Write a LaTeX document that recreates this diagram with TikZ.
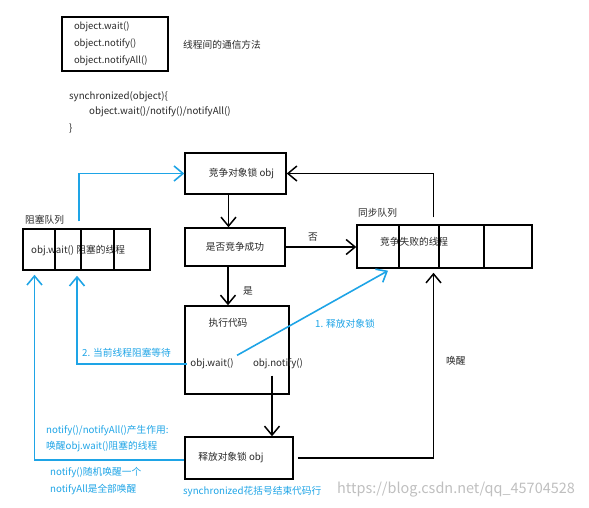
\documentclass[tikz,border=0pt]{standalone}
\usepackage{fontspec}
\setmainfont{Noto Sans CJK SC}
\usepackage{tikz}
\usetikzlibrary{arrows.meta}
\definecolor{lineblue}{RGB}{30,164,230}
\definecolor{inkgray}{RGB}{40,40,40}

\begin{document}
\begin{tikzpicture}[font=\fontsize{9.75}{12}\selectfont,text=inkgray,
  box/.style={draw=black,line width=1.5pt,rectangle,inner sep=0pt},
  barb/.style={-{Straight Barb[length=9bp,width=15bp]}},
  blue text/.style={anchor=west,text=lineblue}]
\useasboundingbox (0bp,0bp) rectangle (589bp,-508bp);
% communication methods
\node (methods) at (115bp,-44bp)[box,minimum width=106bp,minimum height=54bp,align=left,text width=82bp,font=\fontsize{9.5}{17}\selectfont] {object.wait()\\object.notify()\\object.notifyAll()};
\node (note) at (183bp,-45bp)[anchor=west,inner sep=0pt] {线程间的通信方法};
\node (sync1) at (69bp,-97bp)[anchor=west,inner sep=0pt] {synchronized(object)\{};
\node (sync2) at (89bp,-112bp)[anchor=west,inner sep=0pt] {object.wait()/notify()/notifyAll()};
\node (sync3) at (69bp,-128bp)[anchor=west,inner sep=0pt] {\}};
% main flow
\node (lock) at (235.5bp,-173.5bp)[box,minimum width=101bp,minimum height=41bp] {\hspace{12bp}竞争对象锁 obj};
\node (judge) at (235bp,-247bp)[box,minimum width=100bp,minimum height=38bp] {是否竞争成功};
\node (exec) at (237bp,-350bp)[box,minimum width=104bp,minimum height=88bp] {};
\node (run) at (228bp,-323bp) {执行代码};
\node (wait) at (212bp,-364bp) {obj.wait()};
\node (notify) at (278bp,-364bp) {obj.notify()};
\node (release) at (239bp,-458bp)[box,minimum width=108bp,minimum height=42bp] {\hspace{-16bp}释放对象锁 obj};
% queues
\node (blockq) at (86.5bp,-249.5bp)[box,minimum width=127bp,minimum height=41bp] {};
\node (blocklbl) at (25bp,-220bp)[anchor=west,inner sep=0pt] {阻塞队列};
\node (blocked) at (31bp,-251bp)[anchor=west,inner sep=0pt] {obj.wait() 阻塞的线程};
\node (syncq) at (444.5bp,-246.5bp)[box,minimum width=175bp,minimum height=43bp] {};
\node (synclbl) at (358bp,-213bp)[anchor=west,inner sep=0pt] {同步队列};
\node (failed) at (380bp,-242bp)[anchor=west,inner sep=0pt] {竞争失败的线程};
\foreach \x in {55,81,114} \draw [draw=black,line width=1.5pt] (\x bp,-229bp) -- (\x bp,-270bp);
\foreach \x in {399,439,484} \draw [draw=black,line width=1.5pt] (\x bp,-225bp) -- (\x bp,-268bp);
% labels
\node (no) at (313bp,-237bp) {否};
\node (yes) at (248bp,-291bp) {是};
\node (wake) at (446bp,-361bp)[anchor=west,inner sep=0pt] {唤醒};
\node (step1) at (315bp,-324bp)[blue text,inner sep=0pt] {1. 释放对象锁};
\node (step2) at (82bp,-353bp)[blue text,inner sep=0pt] {2. 当前线程阻塞等待};
\node (effect1) at (46bp,-431bp)[blue text,inner sep=0pt] {notify()/notifyAll()产生作用:};
\node (effect2) at (46bp,-447bp)[blue text,inner sep=0pt] {唤醒obj.wait()阻塞的线程};
\node (effect3) at (50bp,-473bp)[blue text,inner sep=0pt] {notify()随机唤醒一个};
\node (effect4) at (50bp,-489bp)[blue text,inner sep=0pt] {notifyAll是全部唤醒};
\node (braceend) at (183bp,-492bp)[blue text,inner sep=0pt] {synchronized花括号结束代码行};
\node (mark) at (337bp,-490bp)[anchor=west,inner sep=0pt,text=black!25,font=\fontsize{14.5}{14.5}\selectfont] {https://blog.csdn.net/qq\_45704528};
% black connectors
\draw [draw=black,barb,line width=1.5pt] ([xshift=-7bp]lock.south) -- ([xshift=-7bp]lock.south |- judge.north);
\draw [draw=black,barb,line width=1.5pt] (judge.east) -- (judge.east -| syncq.west);
\draw [draw=black,barb,line width=1.5pt] ([xshift=-7bp]judge.south) -- ([xshift=-7bp]judge.south |- exec.north);
\draw [draw=black,barb,line width=1.5pt,shorten <=7bp] ([xshift=-11bp]syncq.north) |- (lock.east);
\draw [draw=black,barb,line width=1.5pt,shorten <=3bp] ([xshift=-6bp]notify.south) -- ([xshift=-6bp]notify.south |- release.north);
\draw [draw=black,barb,line width=1.5pt,shorten <=4bp,shorten >=4bp] (release.east) -| ([xshift=-11bp]syncq.south);
% blue connectors
\draw [draw=lineblue,barb,line width=1.6pt,shorten <=7bp] ([xshift=-7.5bp]blockq.north) |- (lock.west);
\draw [draw=lineblue,barb,line width=1.6pt,shorten >=4bp] (wait.north east) -- ([xshift=-53bp]syncq.south);
\draw [draw=lineblue,barb,line width=1.6pt,shorten >=5bp] (wait.west) -| ([xshift=-9.5bp]blockq.south);
\draw [draw=lineblue,barb,line width=1.6pt,shorten >=4bp] ([yshift=-2bp]release.west) -| ([xshift=-52bp]blockq.south);
\end{tikzpicture}
\end{document}
